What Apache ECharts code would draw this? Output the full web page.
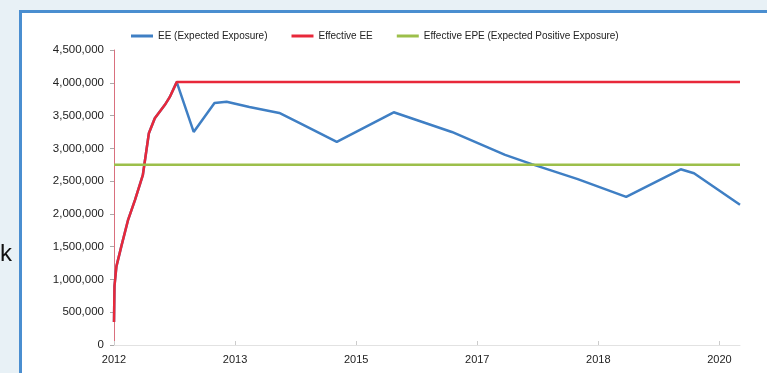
<!DOCTYPE html>
<html>
<head>
<meta charset="utf-8">
<script src="https://cdn.jsdelivr.net/npm/echarts@6/dist/echarts.min.js"></script>
<style>
  html, body { margin: 0; padding: 0; background: #e8f1f6; }
  #main { width: 767px; height: 373px; }
</style>
</head>
<body>
<div id="main"></div>
<script>
// x 位置以“刻度”为单位：0 = 2012, 1 = 2013, ...
var yearLabels = ['2012', '2013', '2015', '2017', '2018', '2020']
var xEnd = 5.17

// EE (Expected Exposure)
var eeX = [0, 0.004, 0.02, 0.06, 0.115, 0.173, 0.238, 0.288, 0.337, 0.419, 0.46, 0.518,
  0.658, 0.83, 0.93, 1.118, 1.365, 1.53, 1.84, 2.31, 2.79, 3.23, 3.45, 3.83, 4.23, 4.68, 4.79, 5.17]
var eeValues = [350000, 900000, 1200000, 1500000, 1900000, 2210000, 2590000, 3230000, 3460000, 3660000, 3780000, 4010000,
  3250000, 3690000, 3710000, 3630000, 3540000, 3390000, 3100000, 3550000, 3250000, 2900000, 2760000, 2530000, 2260000, 2680000, 2620000, 2140000]

// Effective EE
var effX = [0, 0.004, 0.02, 0.06, 0.115, 0.173, 0.238, 0.288, 0.337, 0.419, 0.46, 0.518, 5.17]
var effValues = [350000, 900000, 1200000, 1500000, 1900000, 2210000, 2590000, 3230000, 3460000, 3660000, 3780000, 4010000, 4010000]

// Effective EPE
var epeX = [0, 5.17]
var epeValues = [2750000, 2750000]

function pairs(xs, ys) {
  return xs.map(function (x, i) { return [x, ys[i]] })
}

var chart = echarts.init(document.getElementById('main'))
var font = 'Liberation Sans, Arial, sans-serif'
var option = {
  backgroundColor: '#e8f1f6',
  animation: false,
  textStyle: { fontFamily: font },
  graphic: [
    {
      type: 'rect',
      z: -10,
      shape: { x: 20.5, y: 11.5, width: 800, height: 400 },
      style: { fill: '#ffffff', stroke: '#4a8ed0', lineWidth: 3 }
    },
    {
      type: 'text',
      left: 0,
      top: 242,
      style: { text: 'k', fill: '#111', font: '24px ' + font }
    }
  ],
  grid: {
    left: 114,
    right: 27,
    top: 50,
    bottom: 28,
    containLabel: false
  },
  legend: {
    left: 126,
    top: 26,
    icon: 'rect',
    itemWidth: 22,
    itemHeight: 3,
    itemGap: 24,
    textStyle: { fontSize: 10, color: '#222', fontFamily: font },
    data: ['EE (Expected Exposure)', 'Effective EE', 'Effective EPE (Expected Positive Exposure)']
  },
  xAxis: {
    type: 'value',
    min: 0,
    max: xEnd,
    interval: 1,
    splitLine: { show: false },
    axisLine: { lineStyle: { color: '#e2e2e2', width: 1 } },
    axisTick: { inside: true, length: 4, lineStyle: { color: '#cccccc' } },
    axisLabel: {
      margin: 9,
      fontSize: 11,
      color: '#222',
      showMaxLabel: false,
      formatter: function (v) {
        return Number.isInteger(v) && yearLabels[v] ? yearLabels[v] : ''
      }
    }
  },
  yAxis: {
    type: 'value',
    min: 0,
    max: 4500000,
    interval: 500000,
    splitLine: { show: false },
    axisLine: { show: true, lineStyle: { color: '#d9707e', width: 1 } },
    axisTick: { show: true, length: 4, lineStyle: { color: '#aaaaaa' } },
    axisLabel: {
      margin: 10,
      fontSize: 11.5,
      color: '#222',
      formatter: function (v) { return v.toLocaleString('en-US') }
    }
  },
  series: [
    {
      name: 'EE (Expected Exposure)',
      type: 'line',
      symbol: 'none',
      color: '#3f7fc4',
      lineStyle: { width: 2.5 },
      data: pairs(eeX, eeValues)
    },
    {
      name: 'Effective EE',
      type: 'line',
      symbol: 'none',
      color: '#e8283a',
      lineStyle: { width: 2.5 },
      data: pairs(effX, effValues)
    },
    {
      name: 'Effective EPE (Expected Positive Exposure)',
      type: 'line',
      symbol: 'none',
      color: '#9cbf4a',
      lineStyle: { width: 2.5 },
      data: pairs(epeX, epeValues)
    }
  ]
}
chart.setOption(option)
</script>
</body>
</html>
